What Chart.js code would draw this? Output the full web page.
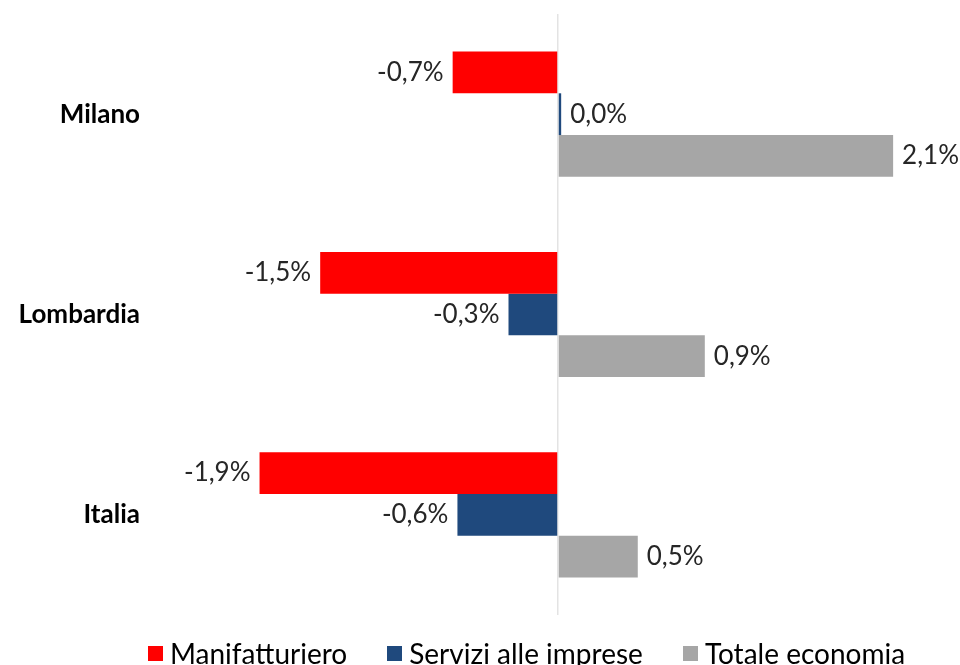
<!DOCTYPE html>
<html>
<head>
<meta charset="utf-8">
<script src="https://cdn.jsdelivr.net/npm/chart.js@4/dist/chart.umd.min.js"></script>
<style>
  html, body { margin: 0; padding: 0; background: #fff; }
  #wrap { position: relative; width: 960px; height: 665px; }
  #legend { position: absolute; left: 148px; top: 636px; display: flex; align-items: center;
            font-family: Lato, sans-serif; font-size: 28px; color: #000; line-height: 34px; }
  #legend .item { display: flex; align-items: center; margin-right: 40px; }
  #legend .box { width: 15px; height: 15px; margin-right: 7px; }
</style>
</head>
<body>
<div id="wrap"><canvas id="myChart"></canvas><div id="legend"></div></div>
<script>
// categories and series (percent change)
var categories = ['Milano', 'Lombardia', 'Italia'];
var manifatturiero = [-0.66, -1.49, -1.87];
var servizi = [0.02, -0.31, -0.63];
var totale = [2.1, 0.92, 0.5];

function fmtPct(v) {
  return v.toFixed(1).replace('.', ',') + '%';
}

// draws the value next to the end of each bar
var valueLabels = {
  id: 'valueLabels',
  afterDatasetsDraw: function (chart) {
    var ctx = chart.ctx;
    ctx.save();
    ctx.font = '26px Lato';
    ctx.fillStyle = '#262626';
    ctx.textBaseline = 'middle';
    chart.data.datasets.forEach(function (ds, i) {
      var meta = chart.getDatasetMeta(i);
      meta.data.forEach(function (bar, j) {
        var v = ds.data[j];
        if (v < 0) {
          ctx.textAlign = 'right';
          ctx.fillText(fmtPct(v), bar.x - 9, bar.y);
        } else {
          ctx.textAlign = 'left';
          ctx.fillText(fmtPct(v), bar.x + 9, bar.y);
        }
      });
    });
    ctx.restore();
  }
};

var ctx = document.getElementById('myChart').getContext('2d');

var myChart = new Chart(ctx, {
  type: 'bar',
  data: {
    labels: categories,
    datasets: [
      { label: 'Manifatturiero', data: manifatturiero, backgroundColor: '#ff0000' },
      { label: 'Servizi alle imprese', data: servizi, backgroundColor: '#1f497d' },
      { label: 'Totale economia', data: totale, backgroundColor: '#a6a6a6' }
    ]
  },
  options: {
    indexAxis: 'y',
    responsive: true,
    maintainAspectRatio: false,
    animation: false,
    layout: { padding: { top: 14, right: 19, left: 0, bottom: 50 } },
    datasets: {
      bar: { categoryPercentage: 0.625, barPercentage: 1.0 }
    },
    scales: {
      x: {
        min: -2.5,
        max: 2.4,
        ticks: { display: false, stepSize: 0.5 },
        border: { display: false },
        grid: {
          drawTicks: false,
          color: function (c) { return c.tick && c.tick.value === 0 ? '#e3e3e3' : 'rgba(0,0,0,0)'; },
          lineWidth: 1.5
        }
      },
      y: {
        afterFit: function (s) { s.width = 159; s.paddingTop = 0; s.paddingBottom = 0; },
        border: { display: false },
        grid: { display: false, drawTicks: false },
        ticks: {
          padding: 19,
          color: '#000',
          font: { family: 'Lato', size: 26, weight: 'bold' }
        }
      }
    },
    plugins: {
      tooltip: { enabled: false },
      legend: { display: false }
    }
  },
  plugins: [valueLabels]
});

// legend built from the chart datasets
var legendEl = document.getElementById('legend');
myChart.data.datasets.forEach(function (ds) {
  var item = document.createElement('div');
  item.className = 'item';
  var box = document.createElement('span');
  box.className = 'box';
  box.style.background = ds.backgroundColor;
  var txt = document.createElement('span');
  txt.textContent = ds.label;
  item.appendChild(box);
  item.appendChild(txt);
  legendEl.appendChild(item);
});
</script>
</body>
</html>
